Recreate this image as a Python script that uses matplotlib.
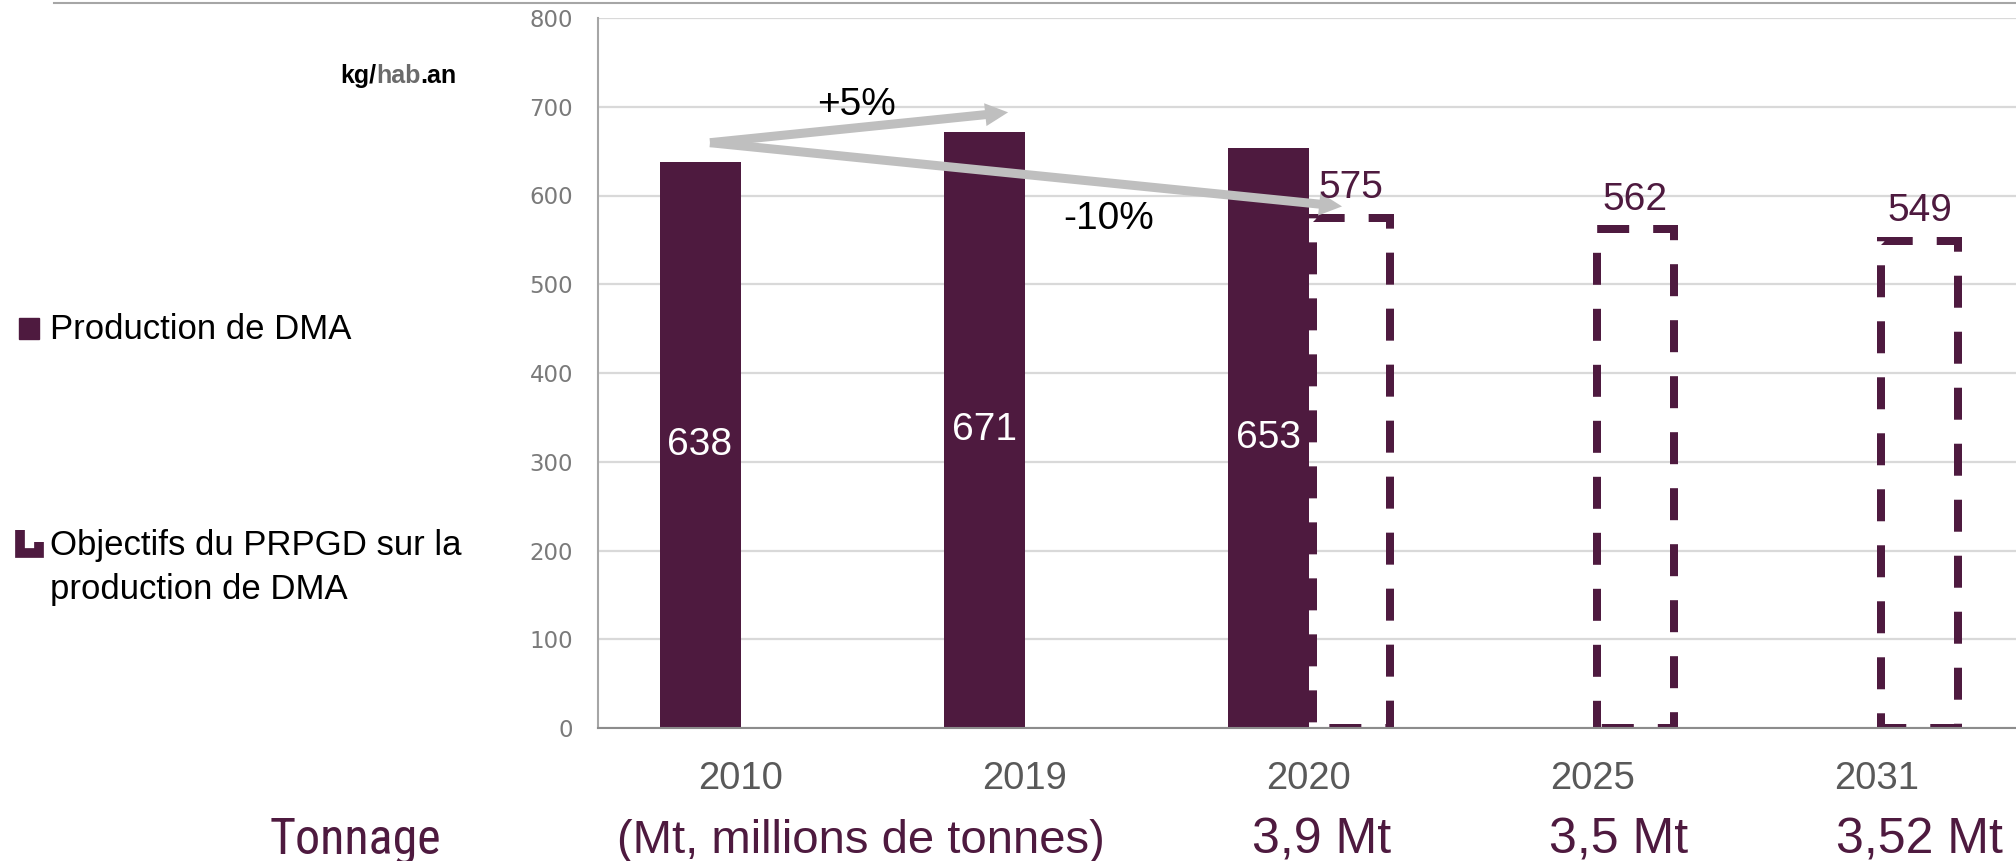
import numpy as np
import matplotlib
matplotlib.use('Agg')
import matplotlib.pyplot as plt
from matplotlib.patches import Rectangle, FancyArrowPatch
from matplotlib.lines import Line2D
from matplotlib import transforms, font_manager

plt.rcParams['font.family'] = ['Liberation Sans', 'DejaVu Sans']

# data
years = ['2010', '2019', '2020', '2025', '2031']
production = [638, 671, 653, np.nan, np.nan]
objectifs = [np.nan, np.nan, 575, 562, 549]
tonnage_years = ['2020', '2025', '2031']
tonnage_labels = ['3,9 Mt', '3,5 Mt', '3,52 Mt']
evolution_labels = ['+5%', '-10%']

purple = '#4e1a3f'
grey_txt = '#595959'
arrow_col = '#bfbfbf'

# condensed font if there is one
installed = {f.name for f in font_manager.fontManager.ttflist}
narrow = None
for name in ['Liberation Sans Narrow', 'Roboto Condensed', 'Open Sans Condensed', 'DejaVu Sans Condensed']:
    if name in installed:
        narrow = name
        break

W, H = 2016, 861
fig = plt.figure(figsize=(W / 100, H / 100), dpi=100)


def fx(x):
    return x / W


def fy(y):
    return 1 - y / H


ax = fig.add_axes([fx(598), fy(728), fx(2019) - fx(598), fy(18) - fy(728)])
ax.set_xlim(-0.5, 4.5)
ax.set_ylim(0, 800)

x = np.arange(len(years))
ax.bar(x - 0.141, production, 0.285, color=purple, zorder=2)
dashed = ax.bar(x + 0.15, objectifs, 0.271, fill=False, edgecolor=purple, linewidth=5.76, zorder=2)

# dashes: 32px on, 24px off, running clockwise from the top-left corner
lw_px = 8.0
dash_px, gap_px = 32.0, 24.0
period = dash_px + gap_px
for p in dashed.patches:
    bb = p.get_window_extent()
    if not np.isfinite(bb.height) or bb.height == 0:
        continue
    c = 2 * bb.width + bb.height
    off = (-(c + gap_px)) % period
    p.set_linestyle((off / lw_px, (dash_px / lw_px, gap_px / lw_px)))

# labels inside solid bars
for xi, v in zip(x, production):
    if not np.isnan(v):
        ax.text(xi - 0.141, v / 2, str(v), ha='center', va='center',
                color='white', fontsize=28, zorder=4)

# labels above dashed bars
for xi, v in zip(x, objectifs):
    if not np.isnan(v):
        ax.annotate(str(v), (xi + 0.15, v), xytext=(0, 14), textcoords='offset points',
                    ha='center', va='baseline', color=purple, fontsize=28, zorder=4)

# evolution arrows
start = (-0.106, 659.5)
for tip in [(0.943, 693.7), (2.118, 587.7)]:
    arr = FancyArrowPatch(start, tip, arrowstyle='simple,head_length=1.65,head_width=1.65,tail_width=0.65',
                          mutation_scale=10, color=arrow_col, lw=0, shrinkA=0, shrinkB=0,
                          zorder=3, clip_on=False)
    ax.add_patch(arr)
ax.text(0.408, 702, evolution_labels[0], ha='center', va='center', fontsize=28, color='black', zorder=4)
ax.text(1.298, 573, evolution_labels[1], ha='center', va='center', fontsize=28, color='black', zorder=4)

ax.set_yticks(range(0, 801, 100))
ax.set_xticks(x, years)
ax.tick_params(axis='y', length=0, pad=18, labelsize=16.5, labelcolor='#7a7a7a')
ax.tick_params(axis='x', length=0, pad=24, labelsize=27.5, labelcolor=grey_txt)
for lab in ax.get_yticklabels():
    lab.set_fontfamily('DejaVu Sans')
ax.yaxis.grid(True, color='#d9d9d9', linewidth=1.6)
ax.set_axisbelow(True)
for s in ['top', 'right']:
    ax.spines[s].set_visible(False)
ax.spines['left'].set_color('#a6a6a6')
ax.spines['left'].set_linewidth(1.5)
ax.spines['bottom'].set_color('#8c8c8c')
ax.spines['bottom'].set_linewidth(1.5)

# top border line
fig.add_artist(Line2D([fx(54), 1], [fy(3), fy(3)], color='#a6a6a6', linewidth=1.5))

# unit label kg/hab.an
t1 = fig.text(fx(340), fy(83), 'kg/', fontsize=18, fontweight='bold', color='black', va='baseline')
t2 = ax.annotate('hab', xy=(1, 0), xycoords=t1, va='bottom', ha='left',
                 fontsize=18, fontweight='bold', color='#6b6b6b', annotation_clip=False)
t3 = ax.annotate('.an', xy=(1, 0), xycoords=t2, va='bottom', ha='left',
                 fontsize=18, fontweight='bold', color='black', annotation_clip=False)

# legend
fig.add_artist(Rectangle((fx(19), fy(339)), fx(20), fy(318) - fy(339), color=purple,
                         transform=fig.transFigure))
fig.text(fx(50), fy(339), 'Production de DMA', fontsize=25, va='baseline', color='black')
fig.add_artist(Line2D([fx(20), fx(20), fx(39), fx(39)], [fy(530), fy(553), fy(553), fy(542)],
                      color=purple, linewidth=7, solid_joinstyle='miter', solid_capstyle='butt'))
fig.text(fx(50), fy(555), 'Objectifs du PRPGD sur la', fontsize=25, va='baseline', color='black')
fig.text(fx(50), fy(599), 'production de DMA', fontsize=25, va='baseline', color='black')

# tonnage row
if narrow:
    fig.text(fx(270), fy(853), 'Tonnage', fontsize=36, va='baseline', color=purple, family=narrow)
else:
    fig.text(fx(270), fy(853), 'Tonnage', fontsize=31, va='baseline', color=purple)
fig.text(fx(617), fy(853), '(Mt, millions de tonnes)', fontsize=34, va='baseline', color=purple)
trans = transforms.blended_transform_factory(ax.transData, fig.transFigure)
tonnage_shift = [-0.199, -0.154, -0.144]
for yr, lab, dx in zip(tonnage_years, tonnage_labels, tonnage_shift):
    xi = years.index(yr)
    fig.text(xi + dx, fy(853), lab, fontsize=36, va='baseline', ha='left',
             color=purple, transform=trans)

fig.savefig('out.png', dpi=100)
